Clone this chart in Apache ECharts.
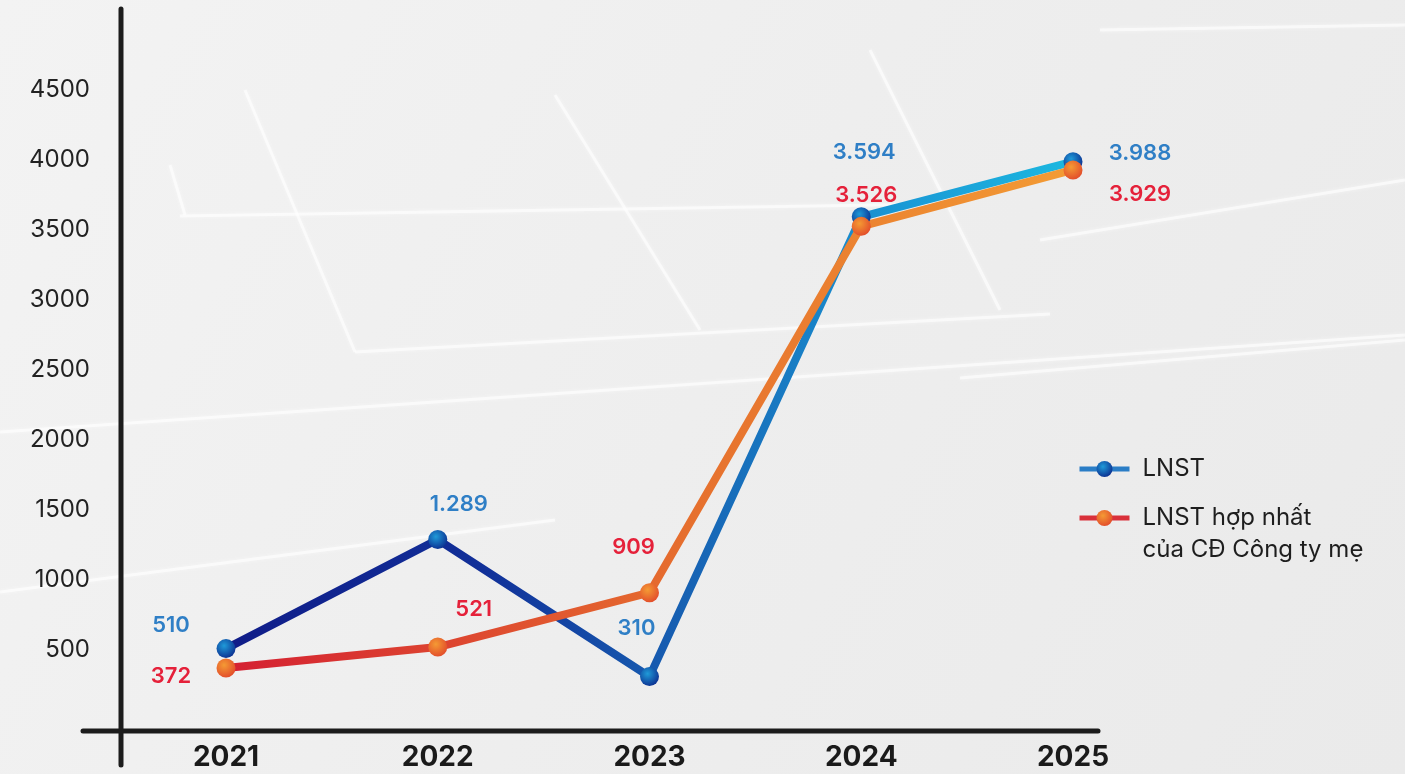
<!DOCTYPE html>
<html><head><meta charset="utf-8">
<script src="https://cdn.jsdelivr.net/npm/echarts@6/dist/echarts.min.js"></script>
<style>html,body{margin:0;padding:0;width:1405px;height:774px;overflow:hidden;background:#eeeeee}#c{width:1405px;height:774px}</style>
</head><body><div id="c"></div>
<script>
const years = ['2021','2022','2023','2024','2025'];
const lnst = [510, 1289, 310, 3594, 3988];
const lnstParent = [372, 521, 909, 3526, 3929];
const yTicks = [0, 500, 1000, 1500, 2000, 2500, 3000, 3500, 4000, 4500];
const seriesNames = ['LNST', 'LNST hợp nhất\ncủa CĐ Công ty mẹ'];
// label offsets (style only)
const lnstLabelOffset = [[-55,-23],[21,-35],[-13,-48],[3,-64],[67,-8]];
const parentLabelOffset = [[-55,8],[36,-38],[-16,-45],[5,-31],[67,24]];

const fmt = v => String(v).replace(/\B(?=(\d{3})+(?!\d))/g, '.');
const FONT = 'Inter, "Noto Sans", sans-serif';

function items(vals, offs){
  return vals.map((v,i)=>({value:v, label:{offset:offs[i]}}));
}
const blueSym = {type:'radial', x:0.4, y:0.35, r:0.7, colorStops:[{offset:0,color:'#1f9ad8'},{offset:1,color:'#0b2d8f'}]};
const orangeSym = {type:'radial', x:0.4, y:0.35, r:0.7, colorStops:[{offset:0,color:'#f49a34'},{offset:1,color:'#e24a2a'}]};

const chart = echarts.init(document.getElementById('c'));
const bgLines = [
  [[0,432],[1405,335]],
  [[0,592],[555,520]],
  [[180,216],[940,204]],
  [[355,352],[1050,314]],
  [[170,165],[185,215]],
  [[245,90],[355,352]],
  [[555,95],[700,330]],
  [[960,378],[1405,340]],
  [[870,50],[1000,310]],
  [[1100,30],[1405,25]],
  [[1040,240],[1405,180]]
];
chart.setOption({
  backgroundColor: {type:'linear', x:0, y:0, x2:1, y2:1, colorStops:[{offset:0,color:'#f3f3f3'},{offset:0.5,color:'#eeeeee'},{offset:1,color:'#eaeaea'}]},
  animation:false,
  graphic: [
    ...bgLines.map(p=>({type:'line', silent:true, z:-10, shape:{x1:p[0][0],y1:p[0][1],x2:p[1][0],y2:p[1][1]}, style:{stroke:'rgba(255,255,255,0.6)', lineWidth:3, shadowBlur:4, shadowColor:'rgba(255,255,255,0.8)'}})),
    {type:'line', z:50, shape:{x1:121,y1:9,x2:121,y2:765}, style:{stroke:'#1c1c1c', lineWidth:5, lineCap:'round'}},
    {type:'line', z:50, shape:{x1:83,y1:731,x2:1098,y2:731}, style:{stroke:'#1c1c1c', lineWidth:5, lineCap:'round'}}
  ],
  grid:{left:226, right:332, top:90, bottom:54},
  legend:{
    orient:'vertical', left:1072, top:448, itemWidth:50, itemHeight:20, itemGap:-15,
    formatter: n => n.indexOf('\n')>=0 ? ' \n' + n : n,
    textStyle:{fontFamily:FONT, fontSize:24, color:'#1e1e1e', lineHeight:32, padding:[0,0,0,8]},
    data:[
      {name:seriesNames[0], itemStyle:{color:blueSym}, lineStyle:{color:'#2a7dc6', width:5}},
      {name:seriesNames[1], itemStyle:{color:orangeSym}, lineStyle:{color:'#d9303a', width:5}}
    ]
  },
  xAxis:{type:'category', data:years, boundaryGap:false,
    axisLine:{show:false}, axisTick:{show:false}, splitLine:{show:false},
    axisLabel:{margin:24, fontFamily:FONT, fontSize:28, fontWeight:'bold', color:'#1a1a1a'}},
  yAxis:{type:'value', min:yTicks[0], max:yTicks[yTicks.length-1], interval:500,
    axisLine:{show:false}, axisTick:{show:false}, splitLine:{show:false},
    axisLabel:{margin:136, fontFamily:FONT, fontSize:24, color:'#222', formatter:v=>v===0?'':String(v)}},
  series:[
    {name:seriesNames[0], type:'line', data:items(lnst, lnstLabelOffset), symbol:'circle', symbolSize:19,
     lineStyle:{width:8, color:{type:'linear',x:0,y:0,x2:1,y2:0,colorStops:[{offset:0,color:'#101c88'},{offset:0.3,color:'#112f98'},{offset:0.55,color:'#1763b4'},{offset:0.8,color:'#1a9ad6'},{offset:1,color:'#1cb9e0'}]}},
     itemStyle:{color:blueSym},
     label:{show:true, position:'inside', formatter:p=>fmt(p.value), fontFamily:FONT, fontSize:22, fontWeight:600, color:'#2f7fc6'}},
    {name:seriesNames[1], type:'line', data:items(lnstParent, parentLabelOffset), symbol:'circle', symbolSize:19,
     lineStyle:{width:8, color:{type:'linear',x:0,y:0,x2:1,y2:0,colorStops:[{offset:0,color:'#d41f32'},{offset:0.3,color:'#de4a30'},{offset:0.55,color:'#e6702e'},{offset:1,color:'#f39c34'}]}},
     itemStyle:{color:orangeSym},
     label:{show:true, position:'inside', formatter:p=>fmt(p.value), fontFamily:FONT, fontSize:22, fontWeight:600, color:'#e5213a'}}
  ]
});
</script></body></html>
